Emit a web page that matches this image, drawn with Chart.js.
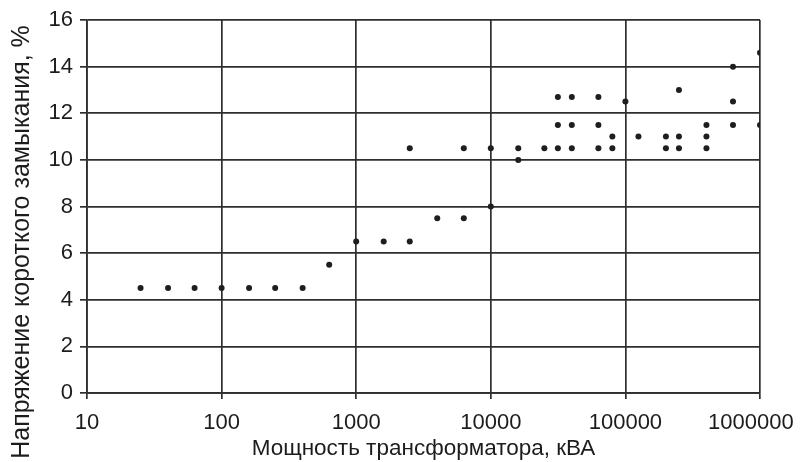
<!DOCTYPE html>
<html>
<head>
<meta charset="utf-8">
<script src="https://cdn.jsdelivr.net/npm/chart.js@4/dist/chart.umd.min.js"></script>
<style>
  html, body { margin: 0; padding: 0; background: #fff; }
  #wrap { width: 801px; height: 462px; }
</style>
</head>
<body>
<div id="wrap"><canvas id="c" width="801" height="462"></canvas></div>
<script>
// Transformer rated power, kVA
const powerKVA = [
  25, 40, 63, 100, 160, 250, 400,
  630,
  1000, 1600, 2500, 2500,
  4000, 6300, 6300,
  10000, 10000,
  16000, 16000,
  25000,
  31500, 31500, 31500,
  40000, 40000, 40000,
  63000, 63000, 63000,
  80000, 80000,
  100000,
  125000,
  200000, 200000,
  250000, 250000, 250000,
  400000, 400000, 400000,
  630000, 630000, 630000,
  1000000, 1000000
];
// Short-circuit voltage, %
const ukPercent = [
  4.5, 4.5, 4.5, 4.5, 4.5, 4.5, 4.5,
  5.5,
  6.5, 6.5, 6.5, 10.5,
  7.5, 7.5, 10.5,
  8.0, 10.5,
  10.5, 10.0,
  10.5,
  12.7, 11.5, 10.5,
  12.7, 11.5, 10.5,
  12.7, 11.5, 10.5,
  11.0, 10.5,
  12.5,
  11.0,
  11.0, 10.5,
  13.0, 11.0, 10.5,
  11.5, 11.0, 10.5,
  14.0, 12.5, 11.5,
  14.6, 11.5
];
const xTickValues = [10, 100, 1000, 10000, 100000, 1000000];
const yTickValues = [0, 2, 4, 6, 8, 10, 12, 14, 16];
const xTitle = 'Мощность трансформатора, кВА';
const yTitle = 'Напряжение короткого замыкания, %';

const points = powerKVA.map((x, i) => ({ x: x, y: ukPercent[i] }));
const FONT = 'Liberation Sans, Arial, sans-serif';
const GRID = '#2e2e2e';
const TEXT = '#1c1c1c';

const yTitlePlugin = {
  id: 'yTitle',
  afterDraw(chart) {
    const ctx = chart.ctx;
    ctx.save();
    ctx.translate(29, 242);
    ctx.rotate(-Math.PI / 2);
    ctx.font = '25px ' + FONT;
    ctx.fillStyle = TEXT;
    ctx.textAlign = 'center';
    ctx.textBaseline = 'alphabetic';
    ctx.fillText(yTitle, 0, 0);
    ctx.restore();
  }
};

new Chart(document.getElementById('c'), {
  type: 'scatter',
  data: {
    datasets: [{
      data: points,
      pointRadius: 3,
      pointHoverRadius: 3,
      pointBackgroundColor: '#1e1e1e',
      pointBorderColor: '#1e1e1e',
      pointBorderWidth: 0
    }]
  },
  plugins: [yTitlePlugin],
  options: {
    responsive: false,
    animation: false,
    layout: { padding: { top: 20, right: 41, left: 0, bottom: 0 } },
    plugins: { legend: { display: false }, tooltip: { enabled: false } },
    scales: {
      x: {
        type: 'logarithmic',
        min: 10,
        max: 1000000,
        afterBuildTicks: (s) => { s.ticks = xTickValues.map(v => ({ value: v })); },
        afterFit: (s) => { s.height = 69; s.paddingLeft = 0; s.paddingRight = 0; },
        ticks: {
          color: TEXT,
          font: { family: FONT, size: 22 },
          padding: 11,
          maxRotation: 0,
          autoSkip: false,
          // last label is nudged left (trailing spaces) so it stays inside the frame
          callback: (v) => (v === 1000000 ? String(v) + '   ' : String(v))
        },
        grid: { color: GRID, lineWidth: 1.7, tickLength: 6, tickColor: GRID },
        border: { color: GRID, width: 1.7 },
        title: {
          display: true,
          text: xTitle,
          color: TEXT,
          font: { family: FONT, size: 22.5 },
          padding: { top: 0, bottom: 0 }
        }
      },
      y: {
        min: 0,
        max: 16,
        afterBuildTicks: (s) => { s.ticks = yTickValues.map(v => ({ value: v })); },
        afterFit: (s) => { s.width = 87; s.paddingTop = 0; s.paddingBottom = 0; },
        ticks: {
          color: TEXT,
          font: { family: FONT, size: 22 },
          padding: 7
        },
        grid: { color: GRID, lineWidth: 1.7, tickLength: 7, tickColor: GRID },
        border: { color: GRID, width: 1.7 },
        title: { display: false }
      }
    }
  }
});
</script>
</body>
</html>
